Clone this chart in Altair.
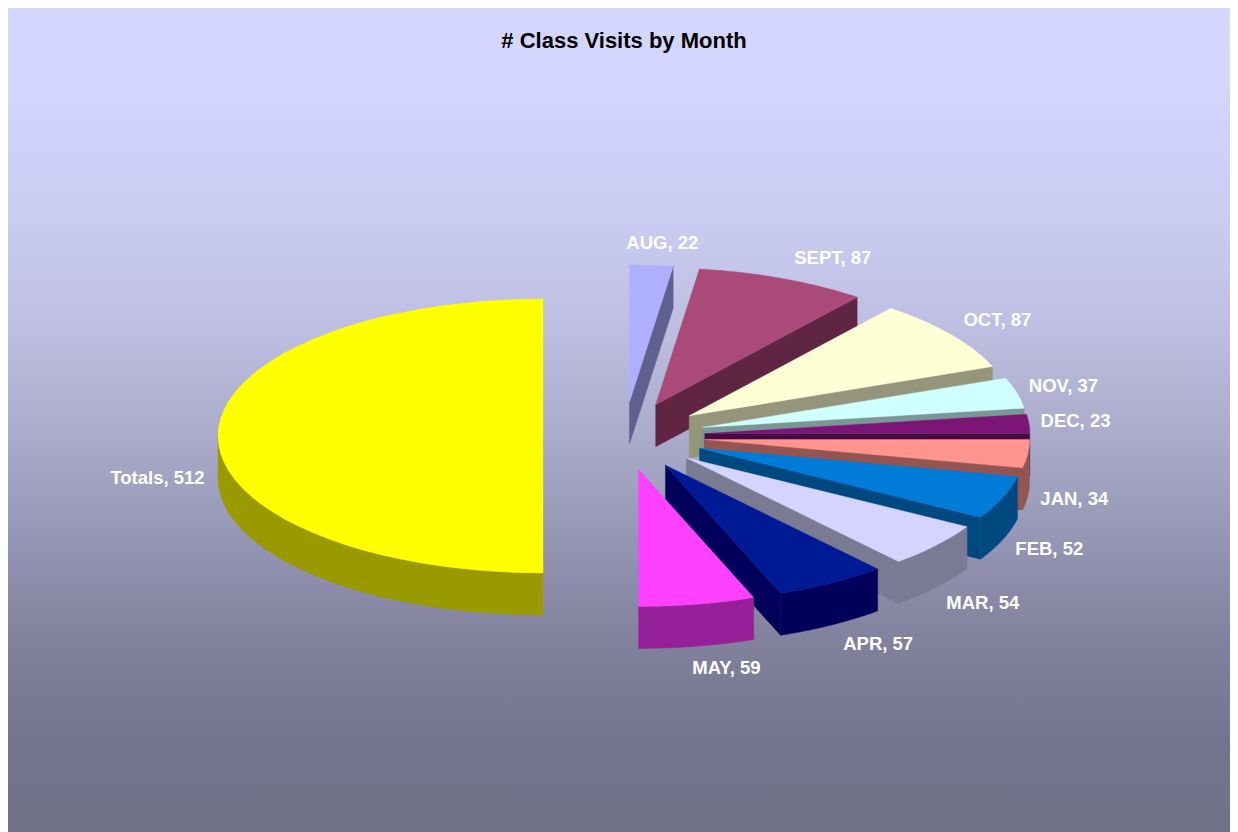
import math
import altair as alt
import pandas as pd

TITLE = "# Class Visits by Month"
MONTHS = ["AUG", "SEPT", "OCT", "NOV", "DEC", "JAN", "FEB", "MAR", "APR", "MAY", "Totals"]
VISITS = [22, 87, 87, 37, 23, 34, 52, 54, 57, 59, 512]
TOP = ["#AFAFFF", "#A94A78", "#FFFFD6", "#D0FFFF", "#7B1677", "#FF958E", "#007CD8", "#D4D4FF", "#001A96", "#FF40FF", "#FFFF00"]
SIDE = ["#60608F", "#5F2542", "#95957C", "#7A9696", "#470B46", "#935552", "#004880", "#7A7A92", "#00005A", "#96209A", "#999900"]
BG_OFFSETS = [0, 0.10, 0.25, 0.38, 0.51, 0.64, 0.765, 0.89, 1]
BG_COLOURS = ["#D5D7FF", "#D3D5FD", "#CACCF2", "#BEBFE2", "#ACACCC", "#9696B5", "#82829E", "#74748E", "#707086"]

W, H = 1222, 824
CX, CY = 616.0, 428.0   # pie centre
RX, RY = 325.0, 137.0   # ellipse radii
EX, EY = 81.0, 34.0     # explosion
DEPTH = 42.0
FONT = "Liberation Sans"

rows, labels = [], []
total = sum(VISITS)
start = 0.0
poly = 0


def add(points, colour):
    global poly
    for i, (px, py) in enumerate(points):
        rows.append({"px": px, "py": py, "poly": poly, "i": i, "c": colour})
    poly += 1


def rim(a, ox, oy, drop=0.0):
    t = math.radians(a)
    return (ox + RX * math.sin(t), oy - RY * math.cos(t) + drop)


for name, v, top, side in zip(MONTHS, VISITS, TOP, SIDE):
    sweep = v / total * 360.0
    end = start + sweep
    mid = start + sweep / 2
    s, c = math.sin(math.radians(mid)), math.cos(math.radians(mid))
    ox, oy = CX + EX * s, CY - EY * c
    arc = [start + sweep * k / 48 for k in range(49)]
    # radial wall at the clockwise end
    if 0 < end < 180:
        e = rim(end, ox, oy)
        add([(ox, oy), e, (e[0], e[1] + DEPTH), (ox, oy + DEPTH)], side)
    # outer curved wall, facing the viewer
    front = [a for a in arc if 90 <= a <= 270]
    if len(front) > 1:
        add([rim(a, ox, oy) for a in front] + [rim(a, ox, oy, DEPTH) for a in reversed(front)], side)
    # top face
    add([(ox, oy)] + [rim(a, ox, oy) for a in arc], top)
    # label follows the rim point at the slice's middle angle
    text = f"{name}, {v}"
    lx, ly = rim(mid, ox, oy, DEPTH if c < 0 else 0.0)
    gap = 3.5 * len(text) + 22
    lx += math.copysign(gap * min(1.0, 3.5 * abs(s)), s)
    ly -= math.copysign(22 * abs(c) ** 0.8, c)
    labels.append({"px": lx, "py": ly, "t": text})
    start = end

xs = alt.Scale(domain=[0, W], range=[0, W])
ys = alt.Scale(domain=[0, H], range=[0, H])
X = alt.X("px:Q", scale=xs, axis=None)
Y = alt.Y("py:Q", scale=ys, axis=None)

bg = alt.Chart(alt.Data(values=[{"a": 0}])).mark_rect(
    fill=alt.Gradient(
        gradient="linear", x1=0, y1=0, x2=0, y2=1,
        stops=[alt.GradientStop(offset=o, color=k) for o, k in zip(BG_OFFSETS, BG_COLOURS)],
    )
).encode(x=alt.value(0), x2=alt.value(W), y=alt.value(0), y2=alt.value(H))

shapes = alt.Chart(pd.DataFrame(rows)).mark_line(strokeWidth=0.4, interpolate="linear-closed").encode(
    x=X, y=Y,
    detail="poly:O",
    order="i:Q",
    fill=alt.Fill("c:N", scale=None),
    stroke=alt.Stroke("c:N", scale=None),
)

text = alt.Chart(pd.DataFrame(labels)).mark_text(
    font=FONT, fontSize=18.5, fontWeight="bold", color="white", align="center", baseline="middle"
).encode(x=X, y=Y, text="t:N")

title = alt.Chart(pd.DataFrame([{"px": CX, "py": 33, "t": TITLE}])).mark_text(
    font=FONT, fontSize=22, fontWeight="bold", color="black", align="center", baseline="middle"
).encode(x=X, y=Y, text="t:N")

chart = alt.layer(bg, shapes, text, title).properties(
    width=W, height=H, padding=0,
    autosize=alt.AutoSizeParams(type="none"),
).configure_view(stroke=None).configure(background="white")

chart.save("out.html", embed_options={"renderer": "svg", "actions": False})
